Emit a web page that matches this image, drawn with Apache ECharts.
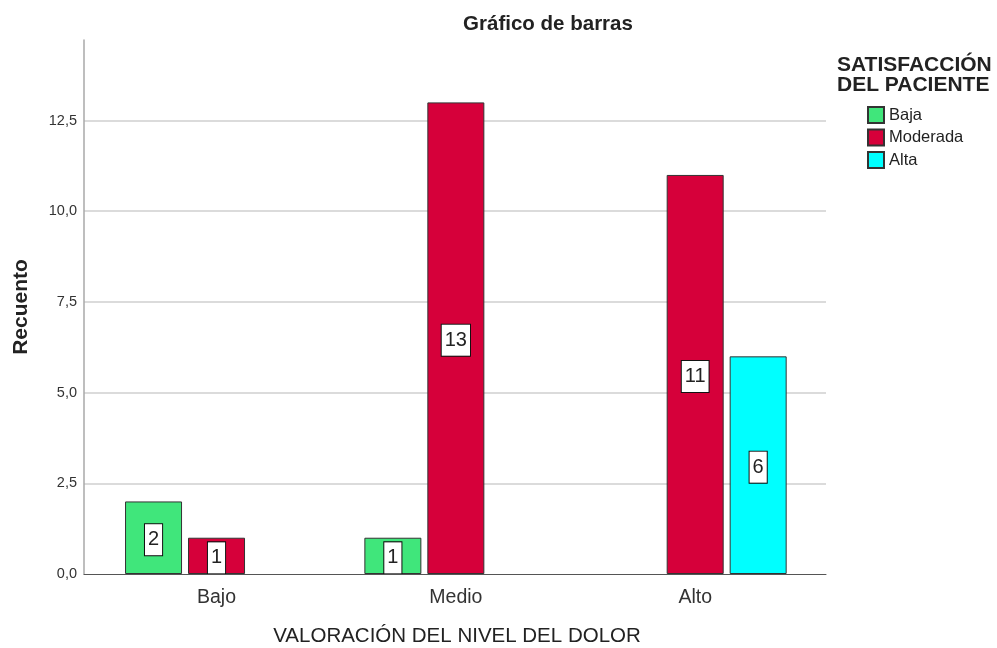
<!DOCTYPE html>
<html>
<head>
<meta charset="utf-8">
<title>Gráfico de barras</title>
<script src="https://cdn.jsdelivr.net/npm/echarts@6/dist/echarts.min.js"></script>
<style>
  html, body { margin: 0; padding: 0; background: #fff; }
  #chart { width: 997px; height: 648px; }
</style>
</head>
<body>
<div id="chart"></div>
<script>
// Counts per pain level, split by patient satisfaction
const categories = ['Bajo', 'Medio', 'Alto'];
const seriesNames = ['Baja', 'Moderada', 'Alta'];
const baja = [2, 1, null];
const moderada = [1, 13, 11];
const alta = [null, null, 6];
const yMin = 0;
const yMax = 14.72;
const yInterval = 2.5;

const FONT = "'Liberation Sans', Arial, sans-serif";
const NARROW = "'Liberation Sans Narrow', 'Liberation Sans', Arial, sans-serif";
const colors = ['#40E67B', '#D6003A', '#00FFFF'];

const chart = echarts.init(document.getElementById('chart'), null, { renderer: 'canvas' });

function barSeries(name, values, color) {
  return {
    name: name,
    type: 'bar',
    xAxisIndex: 0,
    yAxisIndex: 0,
    data: values,
    barWidth: 57,
    barGap: '10.5%',
    itemStyle: { color: color, borderColor: '#333', borderWidth: 1 },
    label: {
      show: true,
      position: 'inside',
      offset: [0, 2],
      color: '#222',
      fontFamily: NARROW,
      fontSize: 20,
      lineHeight: 22,
      backgroundColor: '#fff',
      borderColor: '#111',
      borderWidth: 1,
      padding: [5, 3, 4, 3]
    },
    emphasis: { disabled: true },
    z: 3
  };
}

const option = {
  animation: false,
  textStyle: { fontFamily: FONT },
  grid: [
    // bar grid: category bands
    { left: 96.85, right: 182.15, top: 40, bottom: 74 },
    // frame grid: axes and gridlines
    { left: 84, right: 171, top: 40, bottom: 74 }
  ],
  xAxis: [
    {
      type: 'category',
      gridIndex: 0,
      data: categories,
      axisLine: { show: false },
      axisTick: { show: false },
      axisLabel: { color: '#333', fontSize: 19.5, fontFamily: FONT, margin: 14 },
      splitLine: { show: false }
    },
    {
      type: 'category',
      gridIndex: 1,
      data: [''],
      axisLine: { show: true, lineStyle: { color: '#555', width: 1 } },
      axisTick: { show: false },
      axisLabel: { show: false },
      splitLine: { show: false },
      z: 4
    }
  ],
  yAxis: [
    {
      type: 'value',
      gridIndex: 0,
      min: yMin,
      max: yMax,
      interval: yInterval,
      show: false
    },
    {
      type: 'value',
      gridIndex: 1,
      min: yMin,
      max: yMax,
      interval: yInterval,
      axisLine: { show: true, lineStyle: { color: '#a8a8a8', width: 1.5 } },
      axisTick: { show: false },
      axisLabel: {
        color: '#333',
        fontSize: 14.5,
        fontFamily: FONT,
        margin: 7,
        showMaxLabel: false,
        formatter: function (v) { return v.toFixed(1).replace('.', ','); }
      },
      splitLine: {
        show: true,
        showMinLine: false,
        showMaxLine: false,
        lineStyle: { color: '#cfcfcf', width: 1.5 }
      }
    }
  ],
  legend: {
    orient: 'vertical',
    left: 867,
    top: 106,
    padding: 0,
    itemWidth: 16,
    itemHeight: 16,
    itemGap: 4.5,
    icon: 'rect',
    data: seriesNames,
    textStyle: { color: '#222', fontSize: 16.5, fontFamily: FONT, padding: [0, 0, 0, 0] },
    selectedMode: false
  },
  graphic: [
    {
      type: 'text', x: 548, y: 24,
      style: { text: 'Gráfico de barras', textAlign: 'center', textVerticalAlign: 'middle',
               font: 'bold 20.5px ' + FONT, fill: '#222' }
    },
    {
      type: 'text', x: 21, y: 307, rotation: Math.PI / 2,
      style: { text: 'Recuento', textAlign: 'center', textVerticalAlign: 'middle',
               font: 'bold 21px ' + FONT, fill: '#222' }
    },
    {
      type: 'text', x: 457, y: 636,
      style: { text: 'VALORACIÓN DEL NIVEL DEL DOLOR', textAlign: 'center', textVerticalAlign: 'middle',
               font: '20.5px ' + FONT, fill: '#222' }
    },
    {
      type: 'text', x: 837, y: 65,
      style: { text: 'SATISFACCIÓN', textAlign: 'left', textVerticalAlign: 'middle',
               font: 'bold 21px ' + FONT, fill: '#222' }
    },
    {
      type: 'text', x: 837, y: 85,
      style: { text: 'DEL PACIENTE', textAlign: 'left', textVerticalAlign: 'middle',
               font: 'bold 21px ' + FONT, fill: '#222' }
    }
  ],
  series: [
    barSeries(seriesNames[0], baja, colors[0]),
    barSeries(seriesNames[1], moderada, colors[1]),
    barSeries(seriesNames[2], alta, colors[2])
  ]
};

chart.setOption(option);
</script>
</body>
</html>
